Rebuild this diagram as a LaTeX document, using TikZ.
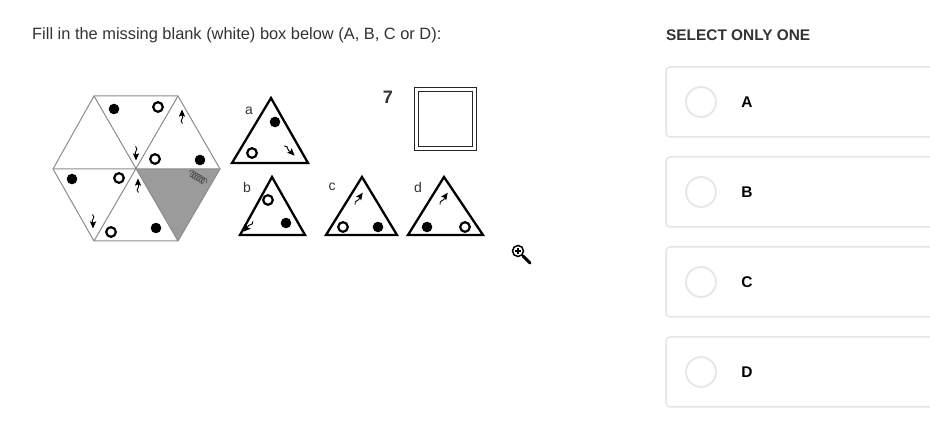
\documentclass[tikz,border=0pt]{standalone}
\usepackage{fontspec}
\setmainfont{Liberation Sans}
\usetikzlibrary{arrows.meta,decorations.pathmorphing}
\definecolor{inkgray}{HTML}{333333}
\definecolor{hexgray}{HTML}{8C8C8C}
\definecolor{shadegray}{HTML}{9B9B9B}
\definecolor{boxgray}{HTML}{E6E6E6}
\newcommand{\twirl}[3]{%
  \begin{scope}[shift={(#1,#2)}, rotate=#3]
    \draw[twirlline] (0,-1) .. controls (3,2.5) and (-3.5,4) .. (0.5,7.5);
    \fill (0,-6.5) -- (-3.2,0.8) -- (0,-0.6) -- (3.2,0.8) -- cycle;
  \end{scope}}

\begin{document}
\begin{tikzpicture}[
  x=1pt, y=-1pt,
  hexline/.style={draw=hexgray, line width=1},
  tribox/.style={draw=black, line width=2.3, line join=miter},
  blackdot/.style={fill=black},
  opendot/.style={draw=black, line width=2.2},
  twirlline/.style={line width=0.9},
  scribble/.style={draw=black!70, line width=0.6, decorate,
                   decoration={coil, segment length=2.6pt, amplitude=3.5pt}},
  tag/.style={font=\fontsize{14}{16}\selectfont, text=inkgray},
  optbox/.style={draw=boxgray, line width=1.5, rounded corners=4},
  radio/.style={draw=boxgray, line width=1.8},
  optletter/.style={font=\fontsize{15.5}{18}\selectfont\bfseries, text=black}
]
\useasboundingbox (0,0) rectangle (930,435);
\clip (0,0) rectangle (930,435);
\fill[white] (0,0) rectangle (930,435);

% Header texts
\node[anchor=west, inner sep=0, text=inkgray, font=\fontsize{16.4}{20}\selectfont]
  (title) at (32,35) {Fill in the missing blank (white) box below (A, B, C or D):};
\node[anchor=west, inner sep=0, text=inkgray, font=\fontsize{15.4}{19}\selectfont\bfseries]
  (select) at (666,35) {SELECT ONLY ONE};

% Hexagon corners
\coordinate (hc)  at (136,169);
\coordinate (htl) at (94,96);
\coordinate (htr) at (178,96);
\coordinate (hr)  at (220,169);
\coordinate (hbr) at (178,241);
\coordinate (hbl) at (94,241);
\coordinate (hl)  at (53,169);

% Shaded piece
\fill[shadegray] (hc) -- (hr) -- (hbr) -- cycle;
\draw[scribble] (189,172) -- (207,183);

% Hexagon outline and spokes
\draw[hexline] (htl) -- (htr) -- (hr) -- (hbr) -- (hbl) -- (hl) -- cycle;
\draw[hexline] (htl) -- (hbr) (htr) -- (hbl) (hl) -- (hr);

% Hexagon marks
\fill[blackdot] (114,109) circle (5.3pt);
\draw[opendot] (158,107) circle (4.8pt);
\draw[opendot] (155,159) circle (4.8pt);
\fill[blackdot] (200,160) circle (5.3pt);
\twirl{182}{116}{0}
\twirl{136}{154}{180}
\fill[blackdot] (72,179) circle (5.3pt);
\draw[opendot] (119,178) circle (4.8pt);
\twirl{93}{222}{180}
\draw[opendot] (111,232) circle (4.8pt);
\fill[blackdot] (156,228) circle (5.3pt);
\twirl{138}{185}{0}

% Triangle a
\draw[tribox] (271,98) -- (308,163) -- (232,163) -- cycle;
\node[tag] (taga) at (249,111) {a};
\fill[blackdot] (275,122) circle (5.3pt);
\draw[opendot] (252,153) circle (4.8pt);
\twirl{290}{151}{-135}

% Number and empty square
\node[font=\fontsize{18}{20}\selectfont\bfseries, text=inkgray] (seven) at (388,97) {7};
\draw[draw=black!85, line width=1.2, double=white, double distance=2.4]
  (416.5,89.5) rectangle (474.5,148.5);

% Triangle b
\draw[tribox] (272,177) -- (305,235) -- (240,235) -- cycle;
\node[tag] (tagb) at (247,187) {b};
\draw[opendot] (268,200) circle (4.8pt);
\fill[blackdot] (286,223) circle (5.3pt);
\twirl{248}{227}{135}

% Triangle c
\draw[tribox] (362,177) -- (397,235) -- (326,235) -- cycle;
\node[tag] (tagc) at (332,187) {c};
\draw[opendot] (343,227) circle (4.8pt);
\fill[blackdot] (378,227) circle (5.3pt);
\twirl{359}{198}{-35}

% Triangle d
\draw[tribox] (444,177) -- (483,235) -- (408,235) -- cycle;
\node[tag] (tagd) at (418,187) {d};
\fill[blackdot] (427,227) circle (5.3pt);
\draw[opendot] (465,227) circle (4.8pt);
\twirl{444}{198}{-35}

% Zoom icon
\draw[line width=1.5] (518,251) circle (5.5pt);
\draw[line width=1.1] (515,251) -- (521,251) (518,248) -- (518,254);
\draw[line width=3, line cap=round] (523,256) -- (530,263);

% Answer options
\draw[optbox] (666,67) rectangle (950,137);
\draw[radio] (701,102) circle (15pt);
\node[optletter] (optA) at (747,102) {A};

\draw[optbox] (666,157) rectangle (950,227);
\draw[radio] (701,192) circle (15pt);
\node[optletter] (optB) at (747,192) {B};

\draw[optbox] (666,247) rectangle (950,317);
\draw[radio] (701,282) circle (15pt);
\node[optletter] (optC) at (747,282) {C};

\draw[optbox] (666,337) rectangle (950,407);
\draw[radio] (701,372) circle (15pt);
\node[optletter] (optD) at (747,372) {D};

\end{tikzpicture}
\end{document}
